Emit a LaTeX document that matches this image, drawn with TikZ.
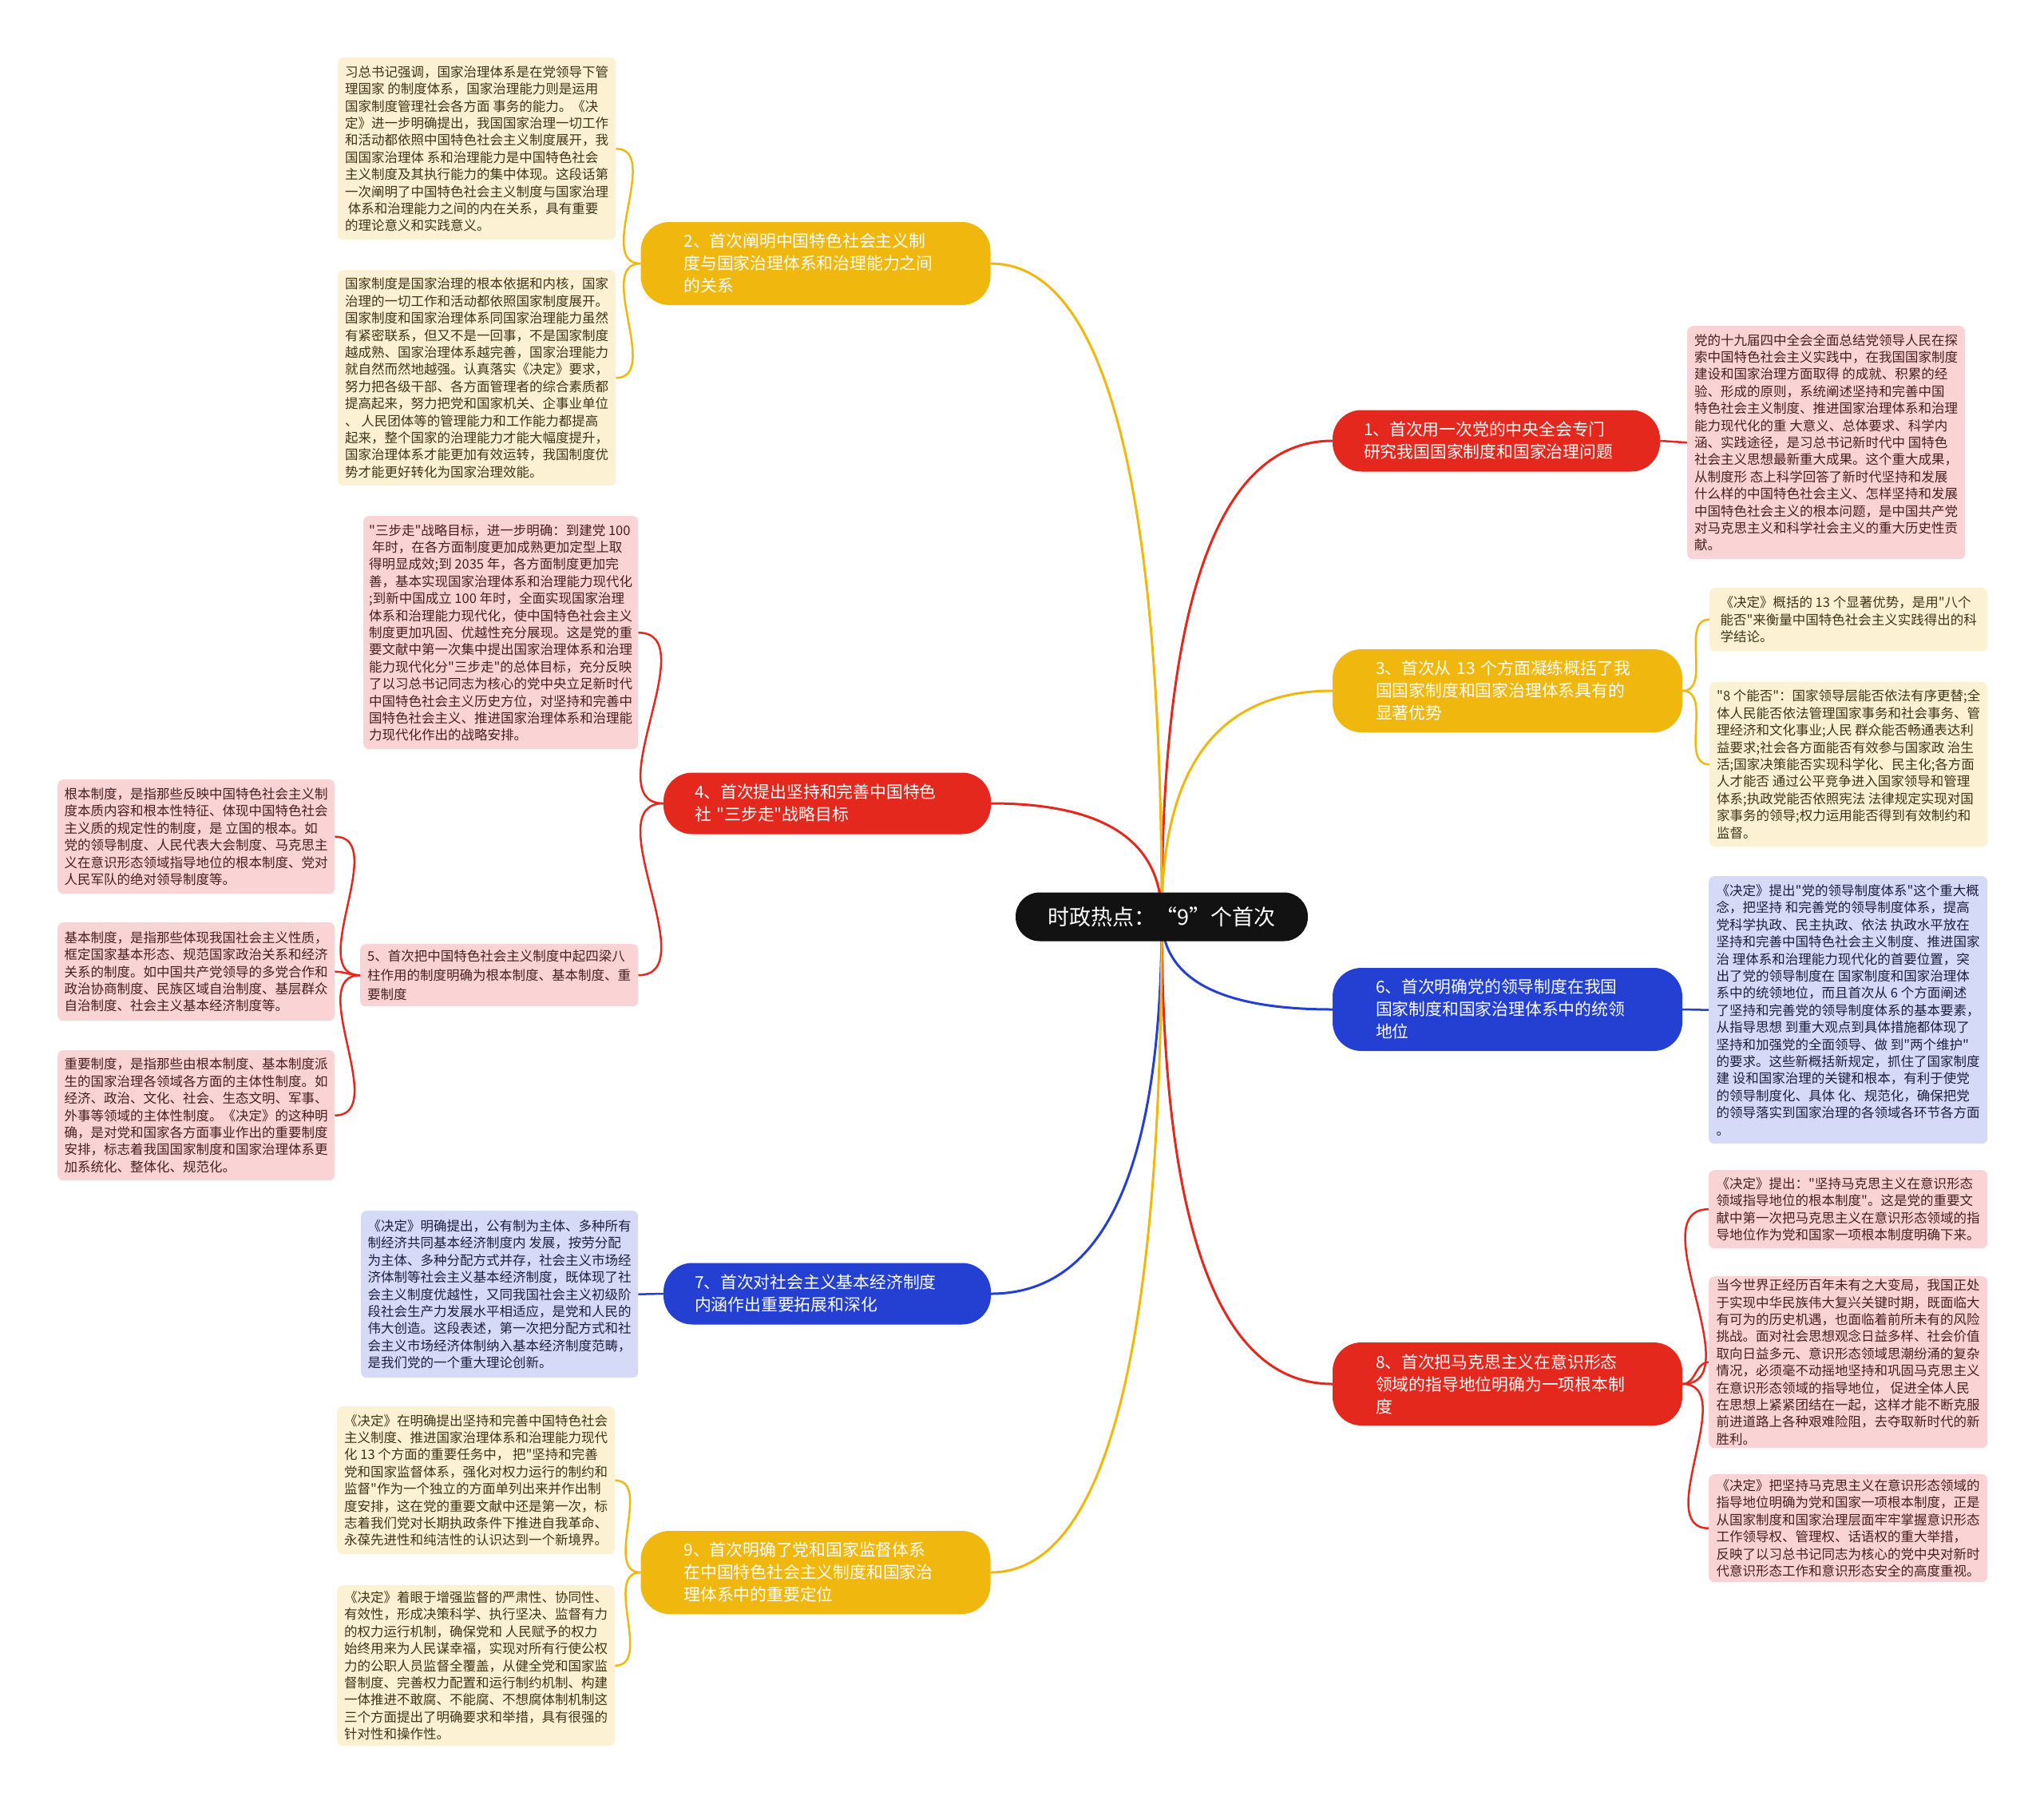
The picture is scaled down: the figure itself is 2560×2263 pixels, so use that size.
\documentclass[tikz,border=0pt]{standalone}
\usepackage{fontspec}
\setmainfont{Noto Sans CJK SC}[Ligatures=TeXOff]
\usetikzlibrary{calc,backgrounds}
\definecolor{cyel}{HTML}{F0B70E}
\definecolor{cred}{HTML}{E5281E}
\definecolor{cblu}{HTML}{2340D2}
\definecolor{fyel}{HTML}{FCF1D3}
\definecolor{fred}{HTML}{FAD4D4}
\definecolor{fblu}{HTML}{D5DAF6}
\definecolor{tyel}{HTML}{3E3418}
\definecolor{tred}{HTML}{4A1E1E}
\definecolor{tblu}{HTML}{1E1E40}
\begin{document}
\begin{tikzpicture}[x=1pt,y=-1pt,
  pill/.style={rounded corners=36pt, text=white, align=left, inner ysep=0pt,
    font=\fontsize{20.8}{28}\selectfont},
  pilltwo/.style={pill, minimum height=77pt, inner xsep=39pt, text width=332pt},
  pillthree/.style={pill, minimum height=104pt, inner xsep=54pt, text width=330pt},
  note/.style={rounded corners=7pt, anchor=north west, align=left, inner xsep=0pt,
    inner ysep=0pt, minimum width=348pt, font=\fontsize{16.5}{21.4}\selectfont},
  ny/.style={note, fill=fyel, text=tyel},
  nr/.style={note, fill=fred, text=tred},
  nb/.style={note, fill=fblu, text=tblu},
  branch/.style={line width=3pt, to path={.. controls ($(\tikztostart)!0.6667!(\tikztostart |- \tikztotarget)$) and ($(\tikztotarget)!0.6667!(\tikztostart |- \tikztotarget)$) .. (\tikztotarget)}},
  sub/.style={line width=2.5pt},
  subl/.style={sub, out=180, in=0},
  subr/.style={sub, out=0, in=180}
]
\useasboundingbox (0,0) rectangle (2560,2263);

% root
\node[fill=black!93, text=white, rounded corners=30pt, minimum width=366pt, minimum height=61pt,
  inner sep=0pt, font=\fontsize{27}{32}\selectfont] (root) at (1455,1148) {时政热点：“9”个首次};

% main branches
\node[pilltwo, fill=cred] (n1) at (1874,552) {1、首次用一次党的中央全会专门\\研究我国国家制度和国家治理问题};
\node[pillthree, fill=cyel] (n2) at (1021.5,330) {2、首次阐明中国特色社会主义制\\度与国家治理体系和治理能力之间\\的关系};
\node[pillthree, fill=cyel] (n3) at (1888,865) {3、首次从 13 个方面凝练概括了我\\国国家制度和国家治理体系具有的\\显著优势};
\node[pilltwo, fill=cred] (n4) at (1036,1006) {4、首次提出坚持和完善中国特色\\社 "三步走"战略目标};
\node[pillthree, fill=cblu] (n6) at (1888,1264) {6、首次明确党的领导制度在我国\\国家制度和国家治理体系中的统领\\地位};
\node[pilltwo, fill=cblu] (n7) at (1036,1620) {7、首次对社会主义基本经济制度\\内涵作出重要拓展和深化};
\node[pillthree, fill=cred] (n8) at (1888,1733) {8、首次把马克思主义在意识形态\\领域的指导地位明确为一项根本制\\度};
\node[pillthree, fill=cyel] (n9) at (1021.5,1969) {9、首次明确了党和国家监督体系\\在中国特色社会主义制度和国家治\\理体系中的重要定位};

% notes for 2
\node[ny, minimum height=228pt] (a2) at (423,72) {习总书记强调，国家治理体系是在党领导下管\\理国家 的制度体系，国家治理能力则是运用\\国家制度管理社会各方面 事务的能力。《决\\定》进一步明确提出，我国国家治理一切工作\\和活动都依照中国特色社会主义制度展开，我\\国国家治理体 系和治理能力是中国特色社会\\主义制度及其执行能力的集中体现。这段话第\\一次阐明了中国特色社会主义制度与国家治理\\\ 体系和治理能力之间的内在关系，具有重要\\的理论意义和实践意义。};
\node[ny, minimum height=270pt] (b2) at (423,338) {国家制度是国家治理的根本依据和内核，国家\\治理的一切工作和活动都依照国家制度展开。\\国家制度和国家治理体系同国家治理能力虽然\\有紧密联系，但又不是一回事，不是国家制度\\越成熟、国家治理体系越完善，国家治理能力\\就自然而然地越强。认真落实《决定》要求，\\努力把各级干部、各方面管理者的综合素质都\\提高起来，努力把党和国家机关、企事业单位\\、 人民团体等的管理能力和工作能力都提高\\起来，整个国家的治理能力才能大幅度提升，\\国家治理体系才能更加有效运转，我国制度优\\势才能更好转化为国家治理效能。};

% notes for 4
\node[nr, minimum height=292pt, minimum width=344pt] (a4) at (455,646) {"三步走"战略目标，进一步明确：到建党 100\\\ 年时，在各方面制度更加成熟更加定型上取\\得明显成效;到 2035 年，各方面制度更加完\\善，基本实现国家治理体系和治理能力现代化\\;到新中国成立 100 年时，全面实现国家治理\\体系和治理能力现代化，使中国特色社会主义\\制度更加巩固、优越性充分展现。这是党的重\\要文献中第一次集中提出国家治理体系和治理\\能力现代化分"三步走"的总体目标，充分反映\\了以习总书记同志为核心的党中央立足新时代\\中国特色社会主义历史方位，对坚持和完善中\\国特色社会主义、推进国家治理体系和治理能\\力现代化作出的战略安排。};
\node[nr, minimum height=78pt, font=\fontsize{16.5}{24}\selectfont] (n5) at (451,1182) {5、首次把中国特色社会主义制度中起四梁八\\柱作用的制度明确为根本制度、基本制度、重\\要制度};

% notes for 5
\node[nr, minimum height=143pt, minimum width=347pt] (a5) at (72,976) {根本制度，是指那些反映中国特色社会主义制\\度本质内容和根本性特征、体现中国特色社会\\主义质的规定性的制度，是 立国的根本。如\\党的领导制度、人民代表大会制度、马克思主\\义在意识形态领域指导地位的根本制度、党对\\人民军队的绝对领导制度等。};
\node[nr, minimum height=123pt, minimum width=347pt] (b5) at (72,1155) {基本制度，是指那些体现我国社会主义性质，\\框定国家基本形态、规范国家政治关系和经济\\关系的制度。如中国共产党领导的多党合作和\\政治协商制度、民族区域自治制度、基层群众\\自治制度、社会主义基本经济制度等。};
\node[nr, minimum height=163pt, minimum width=347pt] (c5) at (72,1315) {重要制度，是指那些由根本制度、基本制度派\\生的国家治理各领域各方面的主体性制度。如\\经济、政治、文化、社会、生态文明、军事、\\外事等领域的主体性制度。《决定》的这种明\\确，是对党和国家各方面事业作出的重要制度\\安排，标志着我国国家制度和国家治理体系更\\加系统化、整体化、规范化。};

% note for 7
\node[nb, minimum height=209pt, minimum width=347pt] (a7) at (452,1516) {《决定》明确提出，公有制为主体、多种所有\\制经济共同基本经济制度内 发展，按劳分配\\为主体、多种分配方式并存，社会主义市场经\\济体制等社会主义基本经济制度，既体现了社\\会主义制度优越性，又同我国社会主义初级阶\\段社会生产力发展水平相适应，是党和人民的\\伟大创造。这段表述，第一次把分配方式和社\\会主义市场经济体制纳入基本经济制度范畴，\\是我们党的一个重大理论创新。};

% notes for 9
\node[ny, minimum height=185pt] (a9) at (422,1761) {《决定》在明确提出坚持和完善中国特色社会\\主义制度、推进国家治理体系和治理能力现代\\化 13 个方面的重要任务中， 把"坚持和完善\\党和国家监督体系，强化对权力运行的制约和\\监督"作为一个独立的方面单列出来并作出制\\度安排，这在党的重要文献中还是第一次，标\\志着我们党对长期执政条件下推进自我革命、\\永葆先进性和纯洁性的认识达到一个新境界。};
\node[ny, minimum height=201pt] (b9) at (422,1985) {《决定》着眼于增强监督的严肃性、协同性、\\有效性，形成决策科学、执行坚决、监督有力\\的权力运行机制，确保党和 人民赋予的权力\\始终用来为人民谋幸福，实现对所有行使公权\\力的公职人员监督全覆盖，从健全党和国家监\\督制度、完善权力配置和运行制约机制、构建\\一体推进不敢腐、不能腐、不想腐体制机制这\\三个方面提出了明确要求和举措，具有很强的\\针对性和操作性。};

% note for 1
\node[nr, minimum height=292pt] (a1) at (2113,408) {党的十九届四中全会全面总结党领导人民在探\\索中国特色社会主义实践中，在我国国家制度\\建设和国家治理方面取得 的成就、积累的经\\验、形成的原则，系统阐述坚持和完善中国\\特色社会主义制度、推进国家治理体系和治理\\能力现代化的重 大意义、总体要求、科学内\\涵、实践途径，是习总书记新时代中 国特色\\社会主义思想最新重大成果。这个重大成果，\\从制度形 态上科学回答了新时代坚持和发展\\什么样的中国特色社会主义、怎样坚持和发展\\中国特色社会主义的根本问题，是中国共产党\\对马克思主义和科学社会主义的重大历史性贡\\献。};

% notes for 3
\node[ny, minimum height=79pt] (a3) at (2141,736) {《决定》概括的 13 个显著优势，是用"八个\\能否"来衡量中国特色社会主义实践得出的科\\学结论。};
\node[ny, minimum height=206pt] (b3) at (2141,854) {"8 个能否"：国家领导层能否依法有序更替;全\\体人民能否依法管理国家事务和社会事务、管\\理经济和文化事业;人民 群众能否畅通表达利\\益要求;社会各方面能否有效参与国家政 治生\\活;国家决策能否实现科学化、民主化;各方面\\人才能否 通过公平竞争进入国家领导和管理\\体系;执政党能否依照宪法 法律规定实现对国\\家事务的领导;权力运用能否得到有效制约和\\监督。};

% note for 6
\node[nb, minimum height=335pt, minimum width=349pt] (a6) at (2140,1097) {《决定》提出"党的领导制度体系"这个重大概\\念，把坚持 和完善党的领导制度体系，提高\\党科学执政、民主执政、依法 执政水平放在\\坚持和完善中国特色社会主义制度、推进国家\\治 理体系和治理能力现代化的首要位置，突\\出了党的领导制度在 国家制度和国家治理体\\系中的统领地位，而且首次从 6 个方面阐述\\了坚持和完善党的领导制度体系的基本要素，\\从指导思想 到重大观点到具体措施都体现了\\坚持和加强党的全面领导、做 到"两个维护"\\的要求。这些新概括新规定，抓住了国家制度\\建 设和国家治理的关键和根本，有利于使党\\的领导制度化、具体 化、规范化，确保把党\\的领导落实到国家治理的各领域各环节各方面\\。};

% notes for 8
\node[nr, minimum height=98pt, minimum width=349pt] (a8) at (2140,1465) {《决定》提出："坚持马克思主义在意识形态\\领域指导地位的根本制度"。这是党的重要文\\献中第一次把马克思主义在意识形态领域的指\\导地位作为党和国家一项根本制度明确下来。};
\node[nr, minimum height=215pt, minimum width=349pt] (b8) at (2140,1598) {当今世界正经历百年未有之大变局，我国正处\\于实现中华民族伟大复兴关键时期，既面临大\\有可为的历史机遇，也面临着前所未有的风险\\挑战。面对社会思想观念日益多样、社会价值\\取向日益多元、意识形态领域思潮纷涌的复杂\\情况，必须毫不动摇地坚持和巩固马克思主义\\在意识形态领域的指导地位， 促进全体人民\\在思想上紧紧团结在一起，这样才能不断克服\\前进道路上各种艰难险阻，去夺取新时代的新\\胜利。};
\node[nr, minimum height=135pt, minimum width=349pt] (c8) at (2140,1846) {《决定》把坚持马克思主义在意识形态领域的\\指导地位明确为党和国家一项根本制度，正是\\从国家制度和国家治理层面牢牢掌握意识形态\\工作领导权、管理权、话语权的重大举措，\\反映了以习总书记同志为核心的党中央对新时\\代意识形态工作和意识形态安全的高度重视。};

\begin{scope}[on background layer]
\fill[white] (0,0) rectangle (2560,2263);
% root branches
\draw[branch, cred] (root.center) to (n1.west);
\draw[branch, cyel] (root.center) to (n3.west);
\draw[branch, cblu] (root.center) to (n6.west);
\draw[branch, cred] (root.center) to (n8.west);
\draw[branch, cyel] (root.center) to (n2.east);
\draw[branch, cred] (root.center) to (n4.east);
\draw[branch, cblu] (root.center) to (n7.east);
\draw[branch, cyel] (root.center) to (n9.east);
% sub connectors
\draw[subl, cyel] (n2.west) to (a2.east);
\draw[subl, cyel] (n2.west) to (b2.east);
\draw[subl, cred] (n4.west) to (a4.east);
\draw[subl, cred] (n4.west) to (n5.east);
\draw[subl, cred] (n5.west) to (a5.east);
\draw[subl, cred] (n5.west) to (b5.east);
\draw[subl, cred] (n5.west) to (c5.east);
\draw[sub, cblu] (n7.west) -- (a7.east);
\draw[subl, cyel] (n9.west) to (a9.east);
\draw[subl, cyel] (n9.west) to (b9.east);
\draw[sub, cred] (n1.east) -- (a1.west);
\draw[subr, cyel] (n3.east) to (a3.west);
\draw[subr, cyel] (n3.east) to (b3.west);
\draw[sub, cblu] (n6.east) -- (a6.west);
\draw[subr, cred] (n8.east) to (a8.west);
\draw[subr, cred] (n8.east) to (b8.west);
\draw[subr, cred] (n8.east) to (c8.west);
\end{scope}
\end{tikzpicture}
\end{document}
